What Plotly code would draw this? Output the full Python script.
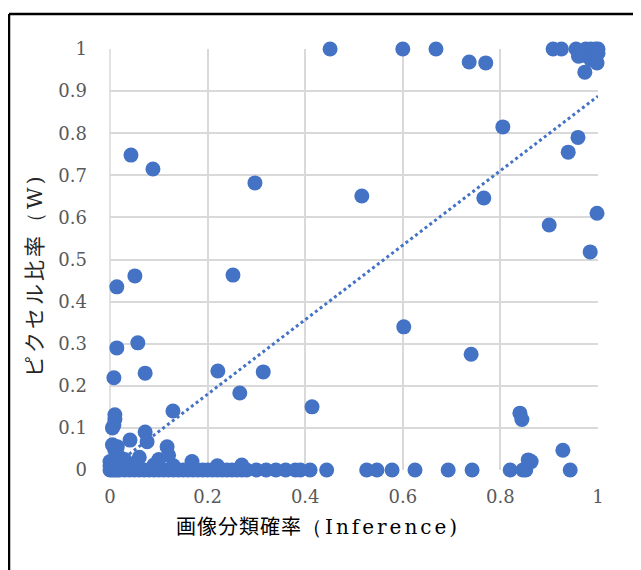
import plotly.graph_objects as go

# ---- data ----
top_x = [0.451, 0.600, 0.668, 0.908, 0.925, 0.955, 0.965, 0.975, 0.985, 0.995, 1.000,
         0.970, 0.990, 0.960, 0.985, 0.998, 0.973, 0.736, 0.770, 0.990, 1.000]
top_y = [1.000, 1.000, 1.000, 1.000, 1.000, 1.000, 0.995, 1.000, 1.000, 1.000, 1.000,
         0.985, 0.990, 0.983, 0.975, 0.967, 0.945, 0.969, 0.967, 0.995, 0.990]

mid_x = [0.805, 0.959, 0.939, 0.998, 0.900, 0.984,
         0.043, 0.088, 0.297, 0.516, 0.766,
         0.014, 0.051, 0.252, 0.602, 0.740,
         0.014, 0.057, 0.008, 0.072, 0.221, 0.314, 0.266]
mid_y = [0.815, 0.790, 0.755, 0.610, 0.582, 0.518,
         0.748, 0.715, 0.682, 0.651, 0.646,
         0.435, 0.461, 0.463, 0.340, 0.275,
         0.290, 0.302, 0.219, 0.230, 0.235, 0.233, 0.183]

low_x = [0.414, 0.129, 0.840, 0.844, 0.863, 0.928, 0.857,
         0.010, 0.010, 0.008, 0.005, 0.041, 0.072, 0.076, 0.117, 0.010, 0.168,
         0.020, 0.030, 0.060, 0.100, 0.120, 0.005, 0.015,
         0.220, 0.270, 0.050, 0.090, 0.000, 0.000, 0.130]
low_y = [0.150, 0.140, 0.135, 0.120, 0.020, 0.047, 0.024,
         0.131, 0.120, 0.107, 0.100, 0.071, 0.090, 0.067, 0.055, 0.047, 0.020,
         0.030, 0.025, 0.030, 0.025, 0.035, 0.060, 0.055,
         0.010, 0.012, 0.015, 0.012, 0.020, 0.010, 0.010]

zero_x = [0.000, 0.005, 0.010, 0.015, 0.020, 0.030, 0.040, 0.050, 0.060, 0.070, 0.080,
          0.090, 0.100, 0.110, 0.120, 0.130, 0.140, 0.150, 0.160, 0.170, 0.180, 0.190,
          0.200, 0.210, 0.220, 0.230, 0.240, 0.250, 0.260, 0.270, 0.280, 0.300, 0.320,
          0.340, 0.360, 0.380, 0.390, 0.410, 0.444, 0.526, 0.547, 0.578, 0.625, 0.693,
          0.742, 0.820, 0.846, 0.943, 0.852]
zero_y = [0.0] * len(zero_x)

trend_slope = 0.885
trend_intercept = 0.003
trend_x = [0.0, 1.0]

x_ticks = [0, 0.2, 0.4, 0.6, 0.8, 1]
x_tick_labels = ["0", "0.2", "0.4", "0.6", "0.8", "1"]
y_ticks = [0, 0.1, 0.2, 0.3, 0.4, 0.5, 0.6, 0.7, 0.8, 0.9, 1]
y_tick_labels = ["0", "0.1", "0.2", "0.3", "0.4", "0.5", "0.6", "0.7", "0.8", "0.9", "1"]

SERIF = "font-family:'DejaVu Serif', serif;letter-spacing:3px"
x_title = ("<span style=\"letter-spacing:1px\">画像分類確率</span>"
           "<span style=\"" + SERIF + "\">（Inference)</span>")
y_title = ("<span style=\"letter-spacing:3px\">ピクセル比率</span>"
           "<span style=\"" + SERIF + "\">（W)</span>")

# ---- figure ----
BLUE = "#4472C4"
all_x = zero_x + low_x + mid_x + top_x
all_y = zero_y + low_y + mid_y + top_y

fig = go.Figure()
fig.add_trace(go.Scatter(
    x=trend_x, y=[trend_slope * v + trend_intercept for v in trend_x],
    mode="lines", line=dict(color=BLUE, width=3, dash="dot"),
    hoverinfo="skip", showlegend=False))
fig.add_trace(go.Scatter(
    x=all_x, y=all_y, mode="markers",
    marker=dict(color=BLUE, size=15, line=dict(width=0)),
    cliponaxis=False, showlegend=False))

OFF = 8  # page body margin
W, H = 641 - OFF, 570 - OFF
L, T = 110 - OFF, 49 - OFF
R = W - (598 - OFF)
B = H - (470 - OFF)
pw, ph = W - L - R, H - T - B

def px_x(p):  # screen pixel -> paper
    return (p - OFF - L) / pw

def px_y(p):
    return (H - B - (p - OFF)) / ph

tick_font = dict(family="DejaVu Serif", size=18, color="#595959")

fig.update_layout(
    width=W, height=H,
    margin=dict(l=L, r=R, t=T, b=B, autoexpand=False),
    paper_bgcolor="white", plot_bgcolor="white",
    xaxis=dict(range=[0, 1], tickvals=x_ticks, ticktext=x_tick_labels,
               showgrid=True, gridcolor="#d9d9d9", gridwidth=1.5,
               zeroline=False, showline=False, ticks="",
               tickfont=tick_font, ticklabelstandoff=14, fixedrange=True),
    yaxis=dict(range=[0, 1], tickvals=y_ticks, ticktext=y_tick_labels,
               showgrid=True, gridcolor="#d9d9d9", gridwidth=1.5,
               zeroline=False, showline=False, ticks="",
               tickfont=tick_font, ticklabelstandoff=22, fixedrange=True),
    shapes=[
        dict(type="line", xref="paper", yref="paper", x0=0, x1=0, y0=0, y1=1,
             line=dict(color="#d9d9d9", width=1.5), layer="below"),
        dict(type="line", xref="paper", yref="paper",
             x0=px_x(9), x1=px_x(660), y0=px_y(14), y1=px_y(14),
             line=dict(color="black", width=2.5)),
        dict(type="line", xref="paper", yref="paper",
             x0=px_x(9), x1=px_x(9), y0=px_y(14), y1=px_y(590),
             line=dict(color="black", width=2.5)),
    ],
    annotations=[
        dict(text=x_title, xref="paper", yref="paper",
             x=px_x(318), y=px_y(525), showarrow=False,
             xanchor="center", yanchor="middle",
             font=dict(family="Noto Sans CJK JP", size=20, color="black")),
        dict(text=y_title, xref="paper", yref="paper", textangle=-90,
             x=px_x(33), y=px_y(275), showarrow=False,
             xanchor="center", yanchor="middle",
             font=dict(family="Noto Sans CJK JP", size=21, color="#262626")),
    ],
)

fig.write_html("out.html")
